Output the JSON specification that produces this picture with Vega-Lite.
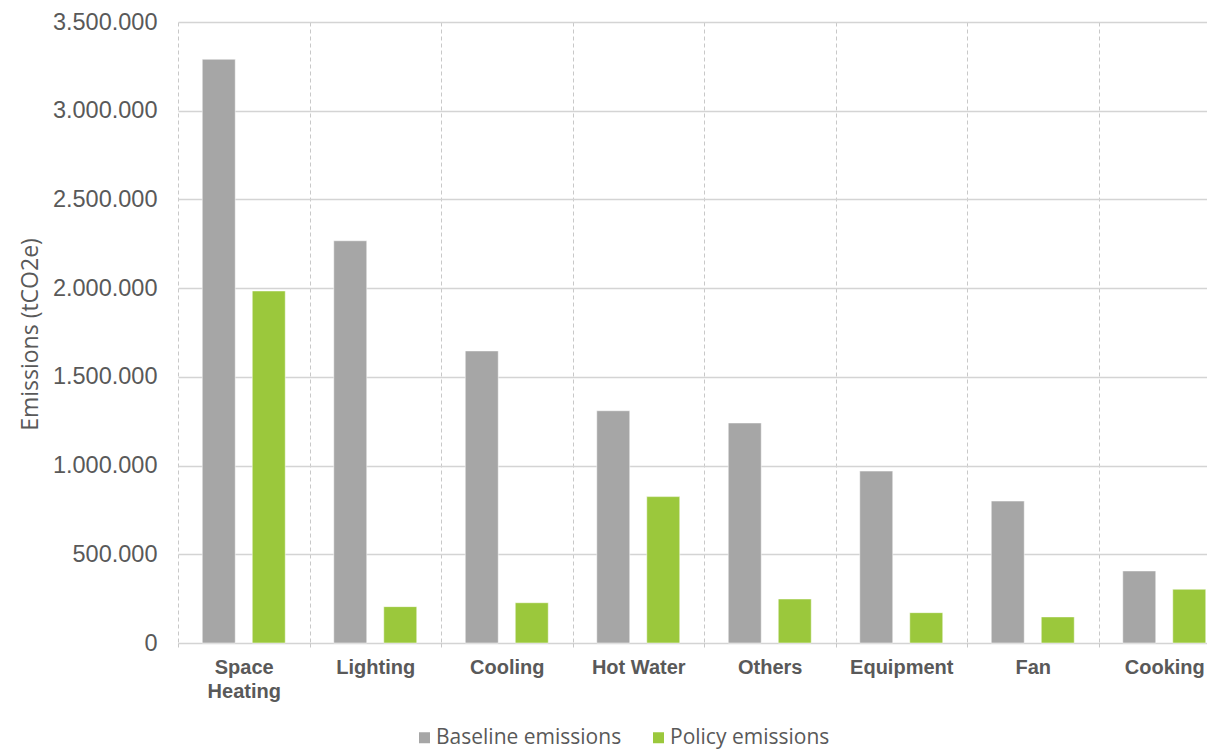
{
  "$schema": "https://vega.github.io/schema/vega-lite/v6.json",
  "autosize": "none",
  "width": 1029,
  "height": 621,
  "padding": {"left": 178, "top": 22, "right": 0, "bottom": 106},
  "background": "white",
  "data": {
    "values": [
      {"category": "Space Heating", "series": "Baseline emissions", "value": 3290000},
      {"category": "Space Heating", "series": "Policy emissions", "value": 1984000},
      {"category": "Lighting", "series": "Baseline emissions", "value": 2267000},
      {"category": "Lighting", "series": "Policy emissions", "value": 205000},
      {"category": "Cooling", "series": "Baseline emissions", "value": 1646000},
      {"category": "Cooling", "series": "Policy emissions", "value": 227000},
      {"category": "Hot Water", "series": "Baseline emissions", "value": 1309000},
      {"category": "Hot Water", "series": "Policy emissions", "value": 825000},
      {"category": "Others", "series": "Baseline emissions", "value": 1240000},
      {"category": "Others", "series": "Policy emissions", "value": 248000},
      {"category": "Equipment", "series": "Baseline emissions", "value": 969000},
      {"category": "Equipment", "series": "Policy emissions", "value": 171000},
      {"category": "Fan", "series": "Baseline emissions", "value": 800000},
      {"category": "Fan", "series": "Policy emissions", "value": 147000},
      {"category": "Cooking", "series": "Baseline emissions", "value": 406000},
      {"category": "Cooking", "series": "Policy emissions", "value": 303000}
    ]
  },
  "mark": {"type": "bar", "stroke": "white", "strokeOpacity": 0.5, "strokeWidth": 1},
  "encoding": {
    "x": {
      "field": "category",
      "type": "nominal",
      "sort": null,
      "scale": {"range": [0, 1052], "paddingInner": 0, "paddingOuter": 0},
      "axis": {
        "title": null,
        "domain": false,
        "grid": true,
        "gridDash": [4, 3],
        "gridColor": "#c8c8c8",
        "gridWidth": 1,
        "bandPosition": 0,
        "ticks": true,
        "tickBand": "extent",
        "tickSize": 6,
        "tickDash": [4, 3],
        "tickColor": "#c8c8c8",
        "labelAngle": 0,
        "labelPadding": 8,
        "labelFont": "Liberation Sans",
        "labelFontWeight": "bold",
        "labelFontSize": 20,
        "labelColor": "#595959",
        "labelLineHeight": 24,
        "labelBaseline": "top",
        "labelExpr": "datum.value == 'Space Heating' ? ['Space', 'Heating'] : datum.value"
      }
    },
    "xOffset": {
      "field": "series",
      "type": "nominal",
      "scale": {"paddingInner": 0.34, "paddingOuter": 0.485}
    },
    "y": {
      "field": "value",
      "type": "quantitative",
      "scale": {"domain": [0, 3500000], "nice": false},
      "axis": {
        "title": "Emissions (tCO2e)",
        "titleFont": "Open Sans",
        "titleFontSize": 23,
        "titleFontWeight": "normal",
        "titleColor": "#595959",
        "titleX": -148,
        "titleY": 312,
        "titleAlign": "center",
        "titleBaseline": "middle",
        "titleAngle": -90,
        "values": [0, 500000, 1000000, 1500000, 2000000, 2500000, 3000000, 3500000],
        "domain": false,
        "ticks": false,
        "grid": true,
        "gridColor": "#d4d4d4",
        "gridWidth": 1.5,
        "labelFont": "Liberation Sans",
        "labelFontSize": 23.5,
        "labelColor": "#595959",
        "labelPadding": 21,
        "labelExpr": "replace(replace(format(datum.value, ','), ',', '.'), ',', '.')"
      }
    },
    "color": {
      "field": "series",
      "type": "nominal",
      "scale": {"domain": ["Baseline emissions", "Policy emissions"], "range": ["#a6a6a6", "#9bc83c"]},
      "legend": {
        "title": null,
        "orient": "none",
        "direction": "horizontal",
        "legendX": 236,
        "legendY": 705,
        "padding": 0,
        "symbolType": "square",
        "symbolSize": 121,
        "symbolStrokeWidth": 0,
        "symbolOpacity": 1,
        "labelOffset": 1,
        "labelLimit": 0,
        "columnPadding": 26,
        "labelFont": "Open Sans",
        "labelFontSize": 21,
        "labelColor": "#595959"
      }
    }
  },
  "config": {
    "view": {"stroke": null},
    "axis": {"gridOpacity": 1}
  }
}
